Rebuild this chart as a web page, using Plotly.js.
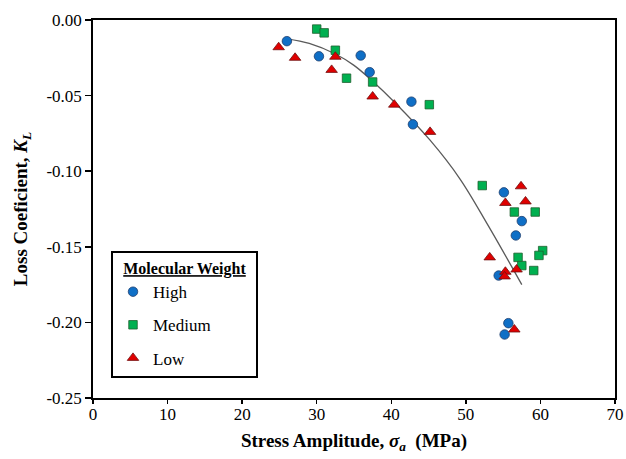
<!DOCTYPE html>
<html>
<head>
<meta charset="utf-8">
<script src="https://cdn.plot.ly/plotly-3.0.1.min.js"></script>
<style>html,body{margin:0;padding:0;background:#fff;}#chart{width:626px;height:459px;}</style>
</head>
<body>
<div id="chart"></div>
<script>
// Data
const highX = [26.0, 30.3, 35.9, 37.1, 42.7, 42.9, 55.1, 57.5, 56.7, 54.4, 55.7, 55.2];
const highY = [-0.014, -0.024, -0.0235, -0.0345, -0.054, -0.069, -0.114, -0.133, -0.1425, -0.169, -0.2005, -0.208];

const mediumX = [30.0, 31.0, 32.5, 34.0, 37.5, 45.1, 52.2, 56.5, 59.3, 57.0, 60.3, 59.8, 57.5, 59.1];
const mediumY = [-0.006, -0.0085, -0.020, -0.0385, -0.041, -0.056, -0.1095, -0.127, -0.127, -0.157, -0.1525, -0.1557, -0.1624, -0.1657];

const lowX = [24.9, 27.1, 32.5, 32.0, 37.5, 40.4, 45.2, 53.2, 55.3, 57.4, 58.0, 55.3, 55.2, 56.8, 56.5];
const lowY = [-0.018, -0.025, -0.0243, -0.033, -0.0506, -0.056, -0.074, -0.157, -0.121, -0.110, -0.120, -0.1665, -0.1696, -0.165, -0.2047];

// Trend line
const trendX = [26.0, 29.0, 32.5, 35.0, 37.5, 40.4, 45.2, 49.2, 53.0, 57.5];
const trendY = [-0.0125, -0.0155, -0.0225, -0.030, -0.0405, -0.0542, -0.0795, -0.105, -0.136, -0.175];

const xTicks = [0, 10, 20, 30, 40, 50, 60, 70];
const yTicks = [0, -0.05, -0.10, -0.15, -0.20, -0.25];
const yTickText = ["0.00", "-0.05", "-0.10", "-0.15", "-0.20", "-0.25"];

const serif = "Liberation Serif";

const traces = [
  {x: trendX, y: trendY, mode: "lines", line: {shape: "spline", smoothing: 1, color: "#5a5a5a", width: 1.3}, showlegend: false, hoverinfo: "skip"},
  {x: highX, y: highY, mode: "markers", name: "High", legendgroup: "a",
   marker: {symbol: "circle", size: 9.5, color: "#0F6FC6", line: {color: "#1f3f6f", width: 0.8}}},
  {x: mediumX, y: mediumY, mode: "markers", name: "Medium", legendgroup: "b",
   marker: {symbol: "square", size: 8.5, color: "#00B050", line: {color: "#1f5f2f", width: 0.8}}},
  {x: lowX, y: lowY, mode: "markers", name: "Low", legendgroup: "c",
   marker: {symbol: "triangle-up", size: 10, color: "#E00000", line: {color: "#6f1010", width: 0.8}}}
];

const layout = {
  width: 626, height: 459,
  margin: {l: 93, r: 11, t: 20, b: 61},
  paper_bgcolor: "#fff", plot_bgcolor: "#fff",
  font: {family: serif, color: "#000", size: 16},
  showlegend: true,
  legend: {
    x: 0.0345, y: 0.388, xanchor: "left", yanchor: "top",
    bgcolor: "#fff", bordercolor: "#000", borderwidth: 2,
    font: {family: serif, size: 17, color: "#000"},
    title: {text: "&nbsp;&nbsp;<b><u>Molecular Weight</u></b>&nbsp;&nbsp;", side: "top center", font: {family: serif, size: 16}},
    tracegroupgap: 8, itemwidth: 30
  },
  xaxis: {
    range: [0, 70], tickvals: xTicks, ticks: "outside", ticklen: 4, tickwidth: 1.5, tickcolor: "#000",
    showline: true, linewidth: 1.8, linecolor: "#000", mirror: true, showgrid: false, zeroline: false,
    tickfont: {family: serif, size: 17, color: "#000"}, ticklabelstandoff: -4,
    title: {text: "<b>Stress Amplitude, <i>σ<sub>a</sub></i>  (MPa)</b>", font: {family: serif, size: 19, color: "#000"}, standoff: 10}
  },
  yaxis: {
    range: [-0.25, 0], tickvals: yTicks, ticktext: yTickText, ticks: "outside", ticklen: 6, tickwidth: 1.5, tickcolor: "#000",
    showline: true, linewidth: 1.8, linecolor: "#000", mirror: true, showgrid: false, zeroline: false,
    tickfont: {family: serif, size: 17, color: "#000"},
    title: {text: "<b>Loss Coeficient, <i>K<sub>L</sub></i></b>", font: {family: serif, size: 19, color: "#000"}, standoff: 14}
  }
};

Plotly.newPlot("chart", traces, layout, {staticPlot: true, displayModeBar: false});
</script>
</body>
</html>
